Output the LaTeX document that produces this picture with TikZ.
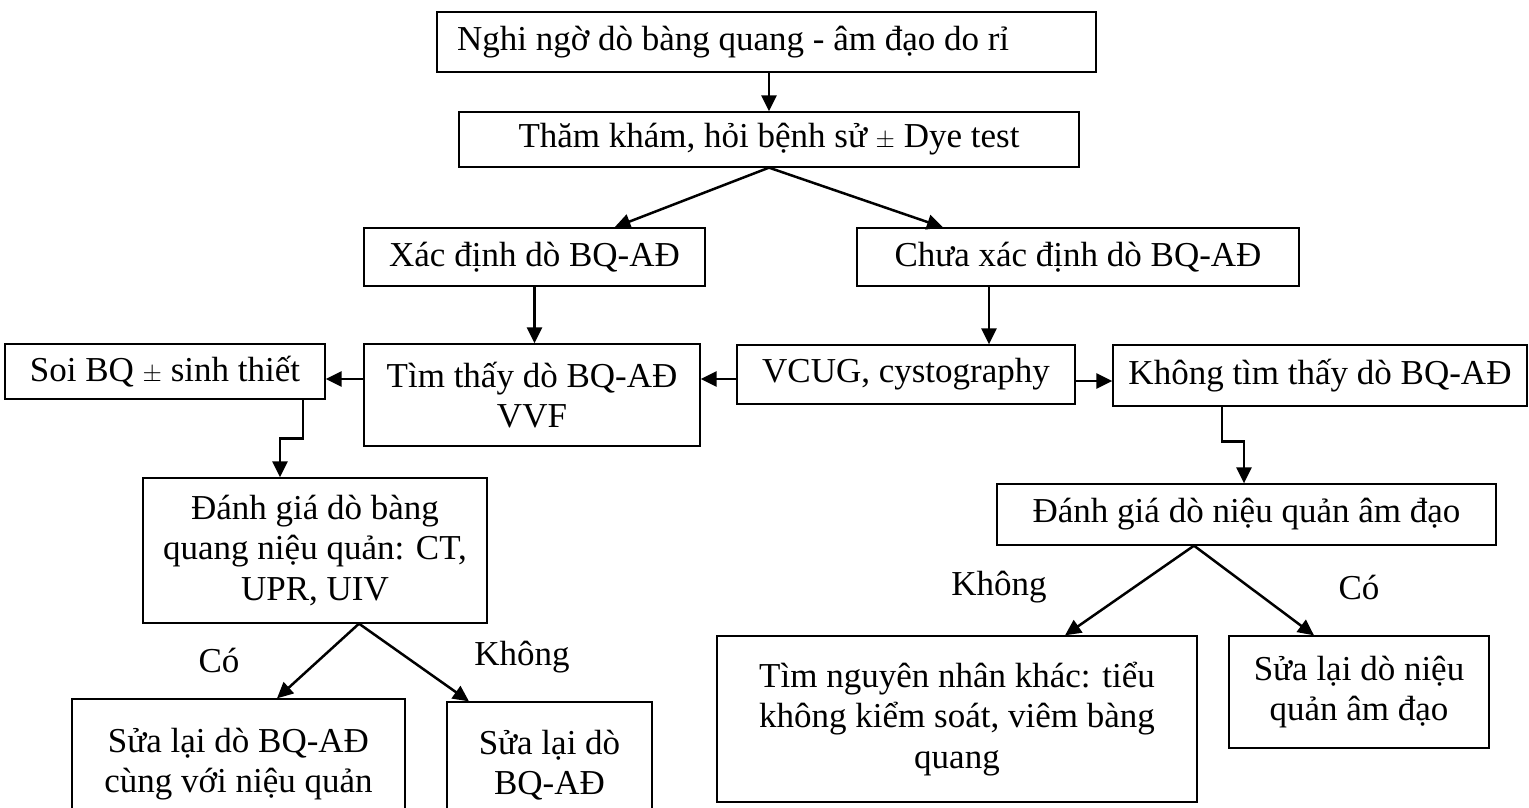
\documentclass[tikz,border=0pt]{standalone}
\usepackage{fontspec}
\setmainfont{Liberation Serif}
\usetikzlibrary{arrows.meta,calc}
\begin{document}
\begin{tikzpicture}[x=1pt,y=-1pt,
  box/.style={draw,line width=1.3pt,inner sep=0pt,align=center,
    font=\fontsize{35}{40.5}\selectfont},
  arr/.style={line width=2.5pt,-{Triangle[length=16pt,width=15pt]}},
  lbl/.style={font=\fontsize{35}{40.5}\selectfont,inner sep=0pt}]
\useasboundingbox (0,0) rectangle (1529,807);
\clip (0,0) rectangle (1529,807);

% boxes
\node[box,minimum width=659pt,minimum height=60pt,text width=619pt,align=flush left] (n1) at (766.5,42) {Nghi ngờ dò bàng quang - âm đạo do rỉ};
\node[box,minimum width=620pt,minimum height=55pt] (n2) at (769,139.5) {Thăm khám, hỏi bệnh sử $\pm$ Dye test};
\node[box,minimum width=341pt,minimum height=58pt] (n3) at (534.5,257) {Xác định dò BQ-AĐ};
\node[box,minimum width=442pt,minimum height=58pt] (n4) at (1078,257) {Chưa xác định dò BQ-AĐ};
\node[box,minimum width=320pt,minimum height=55pt] (n5) at (165,371.5) {Soi BQ $\pm$ sinh thiết};
\node[box,minimum width=336pt,minimum height=102pt] (n6) at (532,395) {Tìm thấy dò BQ-AĐ\\VVF};
\node[box,minimum width=338pt,minimum height=59pt] (n7) at (906,374.5) {VCUG, cystography};
\node[box,minimum width=414pt,minimum height=61pt] (n8) at (1320,375.5) {Không tìm thấy dò BQ-AĐ};
\node[box,minimum width=344pt,minimum height=145pt] (n9) at (315,550.5) {Đánh giá dò bàng\\quang niệu quản: CT,\\UPR, UIV};
\node[box,minimum width=499pt,minimum height=61pt] (n10) at (1246.5,514.5) {Đánh giá dò niệu quản âm đạo};
\node[box,minimum width=333pt,minimum height=130pt] (n11) at (238.5,764) {Sửa lại dò BQ-AĐ\\cùng với niệu quản};
\node[box,minimum width=205pt,minimum height=126pt] (n12) at (549.5,765) {Sửa lại dò\\BQ-AĐ};
\node[box,minimum width=480pt,minimum height=166pt] (n13) at (957,719) {Tìm nguyên nhân khác: tiểu\\không kiểm soát, viêm bàng\\quang};
\node[box,minimum width=260pt,minimum height=112pt] (n14) at (1359,692) {Sửa lại dò niệu\\quản âm đạo};

% branch labels
\node[lbl] (c1) at (219,660) {Có};
\node[lbl] (k1) at (522,657) {Không};
\node[lbl] (k2) at (999,587) {Không};
\node[lbl] (c2) at (1359,587) {Có};

% connectors
\draw[arr] (n2.north |- n1.south) -- (n2.north);
\draw[arr] (n2.south) -- ([xshift=80pt]n3.north);
\draw[arr] (n2.south) -- ([xshift=-135pt]n4.north);
\draw[arr] (n3.south) -- (n3.south |- n6.north);
\draw[arr] ([xshift=-89pt]n4.south) -- ([xshift=-89pt]n4.south |- n7.north);
\draw[arr] ([yshift=16pt]n6.west) -- ([yshift=16pt]n6.west -| n5.east);
\draw[arr] ([yshift=-4.5pt]n7.west) -- ([yshift=-4.5pt]n7.west -| n6.east);
\draw[arr] ([yshift=-6.5pt]n7.east) -- ([yshift=-6.5pt]n7.east -| n8.west);
\draw[arr] ([xshift=138pt]n5.south) -- ++(0,39) -| ([xshift=-35pt]n9.north);
\draw[arr] ([xshift=-98pt]n8.south) -- ++(0,35) -| ([xshift=-2.5pt]n10.north);
\draw[arr] ([xshift=44pt]n9.south) -- ([xshift=38.5pt]n11.north);
\draw[arr] ([xshift=44pt]n9.south) -- ([xshift=-80.5pt]n12.north);
\draw[arr] ([xshift=-52.5pt]n10.south) -- ([xshift=108pt]n13.north);
\draw[arr] ([xshift=-52.5pt]n10.south) -- ([xshift=-45pt]n14.north);
\end{tikzpicture}
\end{document}
